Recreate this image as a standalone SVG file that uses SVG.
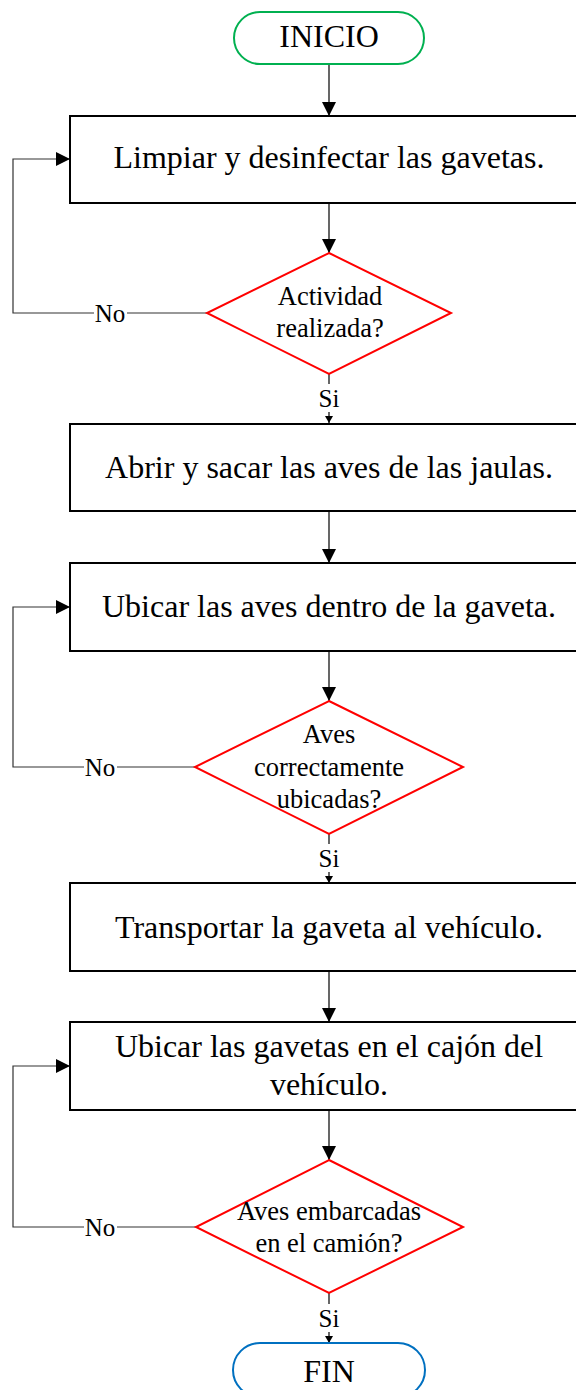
<svg xmlns="http://www.w3.org/2000/svg" width="576" height="1390" viewBox="0 0 576 1390">
<style>
text{font-family:"Liberation Serif","Times New Roman",serif;fill:#000;text-anchor:middle}
.t{font-size:32px}
.d{font-size:26.5px}
.l{font-size:25px}
.box{fill:#fff;stroke:#000;stroke-width:2}
.dia{fill:#fff;stroke:#f00;stroke-width:2}
.c{fill:none;stroke:#000;stroke-width:1.2}
.lp{fill:none;stroke:#333;stroke-width:1.2}
</style>
<defs>
<marker id="big" markerUnits="userSpaceOnUse" markerWidth="14" markerHeight="14" refX="14" refY="7" orient="auto">
<path d="M0,0 L14,7 L0,14 z" fill="#000"/>
</marker>
<marker id="sm" markerUnits="userSpaceOnUse" markerWidth="7" markerHeight="8" refX="7" refY="4" orient="auto">
<path d="M0,0 L7,4 L0,8 z" fill="#000"/>
</marker>
</defs>
<rect width="576" height="1390" fill="#fff"/>
<g id="connectors">
<line class="c" x1="329" y1="64" x2="329" y2="116" marker-end="url(#big)"/>
<line class="c" x1="329" y1="203" x2="329" y2="253" marker-end="url(#big)"/>
<line class="c" x1="329" y1="374" x2="329" y2="423" marker-end="url(#sm)"/>
<line class="c" x1="329" y1="511" x2="329" y2="563" marker-end="url(#big)"/>
<line class="c" x1="329" y1="651" x2="329" y2="701" marker-end="url(#big)"/>
<line class="c" x1="329" y1="834" x2="329" y2="883" marker-end="url(#sm)"/>
<line class="c" x1="329" y1="971" x2="329" y2="1022" marker-end="url(#big)"/>
<line class="c" x1="329" y1="1110" x2="329" y2="1160" marker-end="url(#big)"/>
<line class="c" x1="329" y1="1293" x2="329" y2="1343" marker-end="url(#sm)"/>
<path class="lp" d="M207,313 H13 V159 H70" marker-end="url(#big)"/>
<path class="lp" d="M195,767 H13 V607 H70" marker-end="url(#big)"/>
<path class="lp" d="M196,1227 H13 V1066 H70" marker-end="url(#big)"/>
<g id="labels">
<rect x="94" y="300" width="33" height="26" fill="#fff"/>
<text class="l" x="110" y="322">No</text>
<rect x="84" y="754" width="33" height="26" fill="#fff"/>
<text class="l" x="100" y="776">No</text>
<rect x="84" y="1214" width="33" height="26" fill="#fff"/>
<text class="l" x="100" y="1236">No</text>
<rect x="316" y="384" width="26" height="28" fill="#fff"/>
<text class="l" x="329" y="407">Si</text>
<rect x="316" y="844" width="26" height="28" fill="#fff"/>
<text class="l" x="329" y="867">Si</text>
<rect x="316" y="1304" width="26" height="28" fill="#fff"/>
<text class="l" x="329" y="1327">Si</text>
</g>
</g>
<g id="inicio">
<rect x="234" y="12" width="190" height="52" rx="26" fill="#fff" stroke="#00b050" stroke-width="2"/>
<text class="t" x="329" y="47">INICIO</text>
</g>
<g id="box1">
<rect class="box" x="70" y="116" width="520" height="87"/>
<text class="t" x="329" y="168">Limpiar y desinfectar las gavetas.</text>
</g>
<g id="dec1">
<polygon class="dia" points="329,253 451,313 329,374 207,313"/>
<text class="d" x="330" y="305">Actividad</text>
<text class="d" x="330" y="337">realizada?</text>
</g>
<g id="box2">
<rect class="box" x="70" y="424" width="520" height="87"/>
<text class="t" x="329" y="478">Abrir y sacar las aves de las jaulas.</text>
</g>
<g id="box3">
<rect class="box" x="70" y="563" width="520" height="88"/>
<text class="t" x="329" y="617">Ubicar las aves dentro de la gaveta.</text>
</g>
<g id="dec2">
<polygon class="dia" points="329,701 463,767 329,834 195,767"/>
<text class="d" x="329" y="743">Aves</text>
<text class="d" x="329" y="776">correctamente</text>
<text class="d" x="329" y="808">ubicadas?</text>
</g>
<g id="box4">
<rect class="box" x="70" y="883" width="520" height="88"/>
<text class="t" x="329" y="938">Transportar la gaveta al vehículo.</text>
</g>
<g id="box5">
<rect class="box" x="70" y="1022" width="520" height="88"/>
<text class="t" x="329" y="1057">Ubicar las gavetas en el cajón del</text>
<text class="t" x="329" y="1095">vehículo.</text>
</g>
<g id="dec3">
<polygon class="dia" points="329,1160 463,1227 329,1293 196,1227"/>
<text class="d" x="329" y="1220">Aves embarcadas</text>
<text class="d" x="329" y="1252">en el camión?</text>
</g>
<g id="fin">
<rect x="233" y="1343" width="192" height="54" rx="27" fill="#fff" stroke="#0070c0" stroke-width="2"/>
<text class="t" x="329" y="1382">FIN</text>
</g>
</svg>
